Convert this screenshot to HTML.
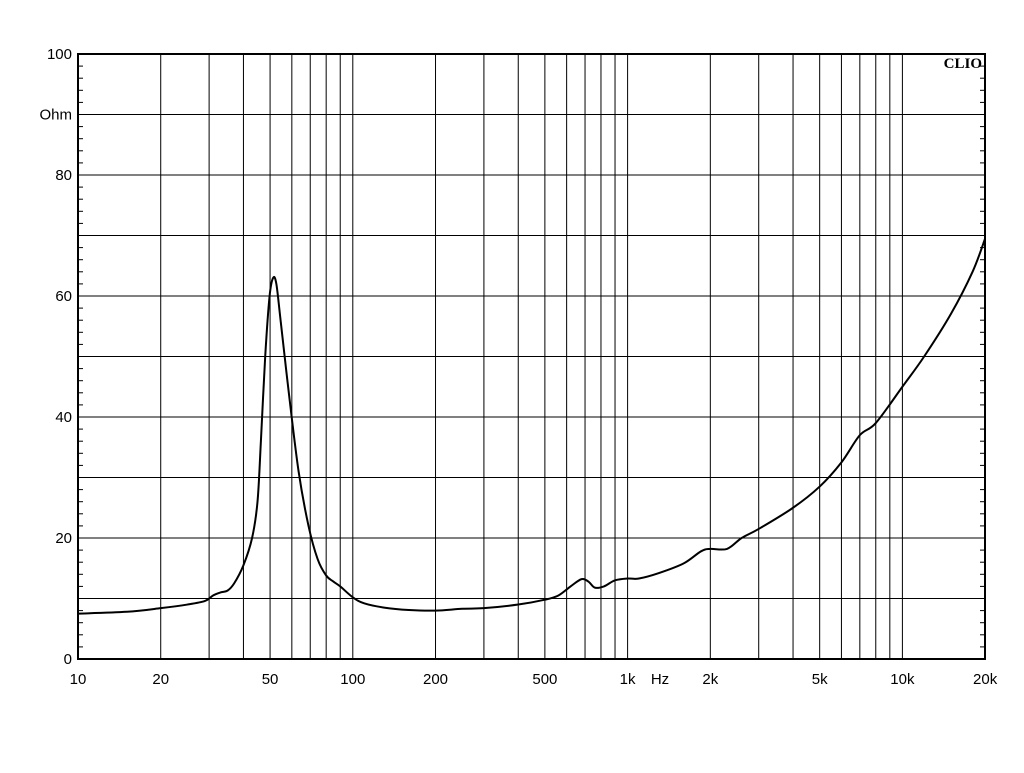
<!DOCTYPE html>
<html><head><meta charset="utf-8"><style>
body{margin:0;background:#fff;}
svg text{font-family:"Liberation Sans",Arial,sans-serif;font-size:15px;fill:#000;}
</style></head><body>
<svg id="s" width="1024" height="768" xmlns="http://www.w3.org/2000/svg"></svg>
<script>
const s=document.getElementById('s');
const L=78,R=985,T=54,B=659;
const X=f=>L+274.8*Math.log10(f/10);
const Y=v=>B-6.05*v;
let h='';
for(let v=10;v<100;v+=10)h+=`<line x1="${L}" x2="${R}" y1="${Y(v)}" y2="${Y(v)}" stroke="#000" stroke-width="1"/>`;
for(let v=2;v<100;v+=2){if(v%10)h+=`<line x1="${L}" x2="${L+5}" y1="${Y(v)}" y2="${Y(v)}" stroke="#000"/><line x1="${R-5}" x2="${R}" y1="${Y(v)}" y2="${Y(v)}" stroke="#000"/>`;}
const fs=[20,30,40,50,60,70,80,90,100,200,300,400,500,600,700,800,900,1000,2000,3000,4000,5000,6000,7000,8000,9000,10000];
fs.forEach(f=>{const x=X(f);h+=`<line x1="${x}" x2="${x}" y1="${T}" y2="${B}" stroke="#000" stroke-width="1"/>`;});
h+=`<rect x="${L}" y="${T}" width="${R-L}" height="${B-T}" fill="none" stroke="#000" stroke-width="2"/>`;
[[100,'100'],[90,'Ohm'],[80,'80'],[60,'60'],[40,'40'],[20,'20'],[0,'0']].forEach(([v,t])=>{h+=`<text x="72" y="${Y(v)+5}" text-anchor="end">${t}</text>`;});
[[10,'10'],[20,'20'],[50,'50'],[100,'100'],[200,'200'],[500,'500'],[1000,'1k'],[2000,'2k'],[5000,'5k'],[10000,'10k'],[20000,'20k']].forEach(([f,t])=>{h+=`<text x="${X(f)}" y="684" text-anchor="middle">${t}</text>`;});
h+=`<text x="660" y="684" text-anchor="middle">Hz</text>`;
h+=`<text x="982" y="68" text-anchor="end" style="font-family:'Liberation Serif',serif;font-weight:bold;font-size:15px">CLIO</text>`;
const d=[[10,7.5],[15,7.8],[20,8.4],[25,9],[29,9.6],[31,10.5],[33,11],[35,11.3],[37,12.5],[40,15.5],[43,20],[45,26],[46.3,36],[48,50],[49.8,60],[51.3,63],[52.7,62],[54.6,56],[58.5,44],[63.5,31],[69,22],[74.5,16.5],[80,13.8],[85,12.8],[90,12],[100,10.2],[110,9.2],[130,8.5],[160,8.1],[200,8],[250,8.3],[300,8.4],[400,9],[500,9.8],[560,10.5],[620,12],[680,13.2],[720,12.8],[760,11.8],[820,12],[900,13],[1000,13.3],[1100,13.3],[1300,14.2],[1600,15.8],[1850,17.8],[2000,18.2],[2300,18.2],[2600,20],[3000,21.5],[4000,25],[5000,28.5],[6000,32.5],[7000,37],[8000,39],[10000,45],[12000,50],[15000,57],[18000,64],[20000,69.5]];
const p=d.map(([f,v])=>[X(f),Y(v)]);
let path=`M${p[0][0]},${p[0][1]}`;
for(let i=0;i<p.length-1;i++){const p0=p[Math.max(0,i-1)],p1=p[i],p2=p[i+1],p3=p[Math.min(p.length-1,i+2)];
const c1=[p1[0]+(p2[0]-p0[0])/6,p1[1]+(p2[1]-p0[1])/6],c2=[p2[0]-(p3[0]-p1[0])/6,p2[1]-(p3[1]-p1[1])/6];
path+=` C${c1[0]},${c1[1]} ${c2[0]},${c2[1]} ${p2[0]},${p2[1]}`;}
h+=`<path d="${path}" fill="none" stroke="#000" stroke-width="2"/>`;
s.innerHTML=h;
</script>
</body></html>
